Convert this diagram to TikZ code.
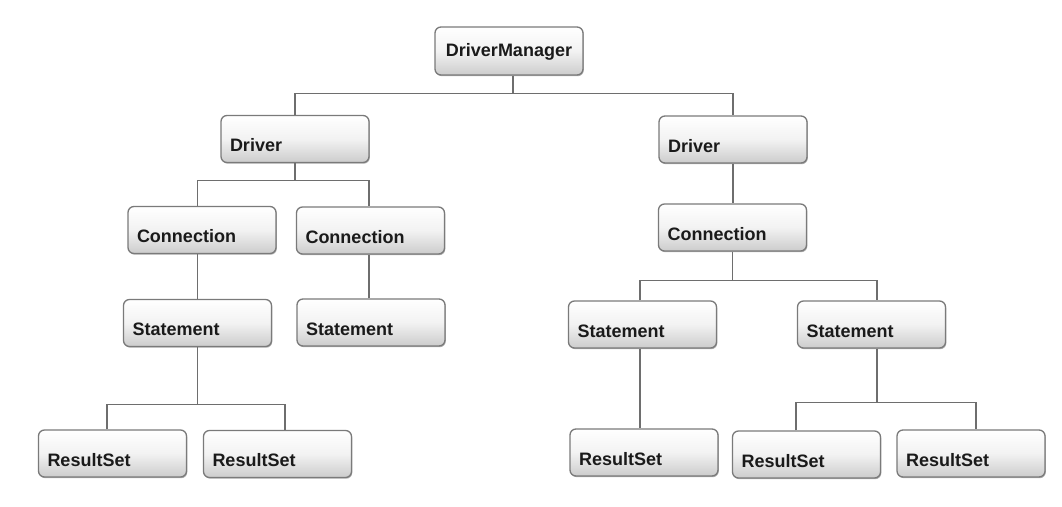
\documentclass[tikz,border=0pt]{standalone}
\usepackage{fontspec}
\setmainfont{Liberation Sans}
\usetikzlibrary{shadows}
\definecolor{edgegray}{HTML}{7A7A7A}
\definecolor{linegray}{HTML}{6E6E6E}
\definecolor{txt}{HTML}{1A1A1A}
\tikzset{
  box/.style={rectangle, rounded corners=6pt, draw=edgegray, line width=1.3pt,
    top color=white, bottom color=black!20, middle color=black!5,
    minimum width=148pt, minimum height=47pt, inner xsep=9pt, inner ysep=0pt,
    text width=130pt, align=left, text height=30pt, text depth=5pt,
    font=\bfseries\fontsize{18}{20}\selectfont, text=txt,
    drop shadow={shadow xshift=0.8pt, shadow yshift=-1.2pt, opacity=0.3, fill=black}},
  topbox/.style={box, align=center, text height=13pt, text depth=1.6pt, minimum height=48pt},
  wire/.style={draw=linegray, line width=1.1pt}
}
\begin{document}
\begin{tikzpicture}[x=1pt, y=-1pt]
\useasboundingbox[fill=white] (0,0) rectangle (1062,506);
% nodes
\node[topbox] (dm) at (509,51) {DriverManager};
\node[box] (drvL) at (295,139) {Driver};
\node[box] (drvR) at (733,139.5) {Driver};
\node[box] (connL1) at (202,230) {Connection};
\node[box] (connL2) at (370.5,230.5) {Connection};
\node[box] (connR) at (732.5,227.5) {Connection};
\node[box] (stmtL1) at (197.5,323) {Statement};
\node[box] (stmtL2) at (371,322.5) {Statement};
\node[box] (stmtR1) at (642.5,324.5) {Statement};
\node[box] (stmtR2) at (871.5,324.5) {Statement};
\node[box] (rsL1) at (112.5,453.5) {ResultSet};
\node[box] (rsL2) at (277.5,454) {ResultSet};
\node[box] (rsR1) at (644,452.5) {ResultSet};
\node[box] (rsR2) at (806.5,454.5) {ResultSet};
\node[box] (rsR3) at (971,453.5) {ResultSet};
% connectors
\begin{scope}[on background layer/.style={}]
\draw[wire] ([xshift=4pt]dm.south) -- ++(0,18) coordinate (j1);
\draw[wire] (drvL.north) |- (j1) -| (drvR.north);
\draw[wire] (drvL.south) -- ++(0,17) coordinate (j2);
\draw[wire] (connL1.north -| stmtL1.north) |- (j2) -| ([xshift=-1.5pt]connL2.north);
\draw[wire] (stmtL1.north) -- (stmtL1.north |- connL1.south);
\draw[wire] ([xshift=-2pt]stmtL2.north) -- ([xshift=-2pt]stmtL2.north |- connL2.south);
\draw[wire] (stmtL1.south) -- ++(0,57) coordinate (j3);
\draw[wire] ([xshift=-5.5pt]rsL1.north) |- (j3) -| ([xshift=7.5pt]rsL2.north);
\draw[wire] (drvR.south) -- (drvR.south |- connR.north);
\draw[wire] (connR.south) -- ++(0,28.5) coordinate (j4);
\draw[wire] ([xshift=-2.5pt]stmtR1.north) |- (j4) -| ([xshift=5.5pt]stmtR2.north);
\draw[wire] ([xshift=-2.5pt]stmtR1.south) -- ([xshift=-2.5pt]stmtR1.south |- rsR1.north);
\draw[wire] ([xshift=5.5pt]stmtR2.south) -- ++(0,53.5) coordinate (j5);
\draw[wire] ([xshift=-10.5pt]rsR2.north) |- (j5) -| ([xshift=5pt]rsR3.north);
\end{scope}
\end{tikzpicture}
\end{document}
